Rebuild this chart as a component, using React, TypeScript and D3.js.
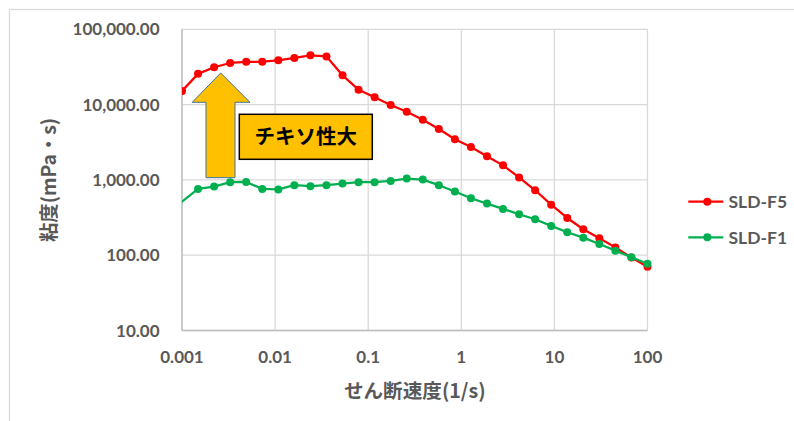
import React from "react";
import * as d3 from "d3";

// Shear rate grid (1/s) – 30 log-spaced steps from 0.001 to 100
const shearRatesF5 = [
  0.001, 0.001487, 0.002212, 0.00329, 0.004894, 0.007278,
  0.01083, 0.0161, 0.02395, 0.03562, 0.05298, 0.0788,
  0.1172, 0.1743, 0.2593, 0.3857, 0.5736, 0.8532,
  1.269, 1.887, 2.807, 4.175, 6.21, 9.237,
  13.74, 20.43, 30.39, 45.2, 67.23, 100,
];

// SLD-F5 viscosity (mPa·s)
const viscosityF5 = [
  15200, 25600, 31300, 35700, 37000, 37100,
  38700, 41600, 45200, 43600, 24500, 15800,
  12500, 9890, 8050, 6300, 4740, 3460,
  2730, 2060, 1560, 1080, 728, 469,
  312, 221, 168, 127, 93, 70,
];

// SLD-F1 starts one step below the axis minimum
const shearRatesF1 = [
  0.000672, 0.001487, 0.002212, 0.00329, 0.004894, 0.007278,
  0.01083, 0.0161, 0.02395, 0.03562, 0.05298, 0.0788,
  0.1172, 0.1743, 0.2593, 0.3857, 0.5736, 0.8532,
  1.269, 1.887, 2.807, 4.175, 6.21, 9.237,
  13.74, 20.43, 30.39, 45.2, 67.23, 100,
];

const viscosityF1 = [
  350, 759, 815, 932, 940, 759,
  748, 851, 825, 851, 893, 932,
  932, 970, 1040, 1010, 851, 700,
  571, 485, 412, 350, 300, 245,
  202, 171, 141, 115, 94, 77,
];

const xTicks = [0.001, 0.01, 0.1, 1, 10, 100];
const xTickLabels = ["0.001", "0.01", "0.1", "1", "10", "100"];
const yTicks = [10, 100, 1000, 10000, 100000];

const seriesNames = ["SLD-F5", "SLD-F1"];
const seriesColors = ["#FF0000", "#00B050"];

const xTitle = "せん断速度(1/s)";
const yTitle = "粘度(mPa・s)";
const noteText = "チキソ性大";

const W = 794;
const H = 421;
const plot = { left: 182, right: 647.5, top: 29.3, bottom: 330.5 };

const numFont = "Lato, 'Open Sans', sans-serif";
const jpFont = "'Noto Sans CJK JP', 'Noto Sans', sans-serif";
const labelColor = "#595959";

export default function App() {
  const x = d3.scaleLog().domain([0.001, 100]).range([plot.left, plot.right]);
  const y = d3.scaleLog().domain([10, 100000]).range([plot.bottom, plot.top]);
  const yFmt = d3.format(",.2f");

  const series = [
    { name: seriesNames[0], color: seriesColors[0], xs: shearRatesF5, ys: viscosityF5 },
    { name: seriesNames[1], color: seriesColors[1], xs: shearRatesF1, ys: viscosityF1 },
  ];

  const line = d3
    .line<[number, number]>()
    .x((d) => x(d[0]))
    .y((d) => y(d[1]));

  // upward arrow annotation
  const arrow = {
    tipX: 220.7, tipY: 73, headHalf: 28.5, headBaseY: 102.3,
    shaftL: 206, shaftR: 235, bottom: 177.7,
  };
  const arrowPts = [
    [arrow.tipX, arrow.tipY],
    [arrow.tipX + arrow.headHalf + 0.8, arrow.headBaseY],
    [arrow.shaftR, arrow.headBaseY],
    [arrow.shaftR, arrow.bottom],
    [arrow.shaftL, arrow.bottom],
    [arrow.shaftL, arrow.headBaseY],
    [arrow.tipX - arrow.headHalf, arrow.headBaseY],
  ]
    .map((p) => p.join(","))
    .join(" ");

  const box = { x: 239.3, y: 114.3, w: 133, h: 45 };

  return (
    <svg
      width={W}
      height={H}
      style={{ position: "absolute", left: 0, top: 0, background: "#fff" }}
    >
      <defs>
        <clipPath id="plotClip">
          <rect
            x={plot.left}
            y={plot.top - 6}
            width={plot.right - plot.left + 6}
            height={plot.bottom - plot.top + 12}
          />
        </clipPath>
      </defs>

      {/* chart area border */}
      <rect x={9.5} y={9.5} width={W + 20} height={H + 20} fill="#fff" stroke="#D9D9D9" strokeWidth={1.3} />

      {/* gridlines */}
      {yTicks.map((t) => (
        <line key={"gy" + t} x1={plot.left} x2={plot.right} y1={y(t)} y2={y(t)} stroke="#D9D9D9" strokeWidth={1.3} />
      ))}
      {xTicks.map((t) => (
        <line key={"gx" + t} x1={x(t)} x2={x(t)} y1={plot.top} y2={plot.bottom} stroke="#D9D9D9" strokeWidth={1.3} />
      ))}

      {/* axis lines */}
      <line x1={plot.left} x2={plot.left} y1={plot.top} y2={plot.bottom} stroke="#BFBFBF" strokeWidth={1.5} />
      <line x1={plot.left} x2={plot.right} y1={plot.bottom} y2={plot.bottom} stroke="#BFBFBF" strokeWidth={1.5} />

      {/* y tick labels */}
      {yTicks.map((t) => (
        <text
          key={"ly" + t}
          x={159.5}
          y={y(t)}
          dy="0.36em"
          textAnchor="end"
          fontFamily={numFont}
          fontWeight={700}
          fontSize={17}
          fill={labelColor}
        >
          {yFmt(t)}
        </text>
      ))}

      {/* x tick labels */}
      {xTicks.map((t, i) => (
        <text
          key={"lx" + t}
          x={x(t)}
          y={363}
          textAnchor="middle"
          fontFamily={numFont}
          fontWeight={700}
          fontSize={17}
          fill={labelColor}
        >
          {xTickLabels[i]}
        </text>
      ))}

      {/* axis titles */}
      <text
        x={(plot.left + plot.right) / 2}
        y={398}
        textAnchor="middle"
        fontFamily={jpFont}
        fontWeight={700}
        fontSize={19.6}
        fill={labelColor}
      >
        {xTitle}
      </text>
      <text
        transform={`translate(56,${(plot.top + plot.bottom) / 2}) rotate(-90)`}
        textAnchor="middle"
        fontFamily={jpFont}
        fontWeight={700}
        fontSize={19.3}
        fill={labelColor}
      >
        {yTitle}
      </text>

      {/* series */}
      <g clipPath="url(#plotClip)">
        {series.map((s) => {
          const pts = s.xs.map((v, i) => [v, s.ys[i]] as [number, number]);
          return (
            <g key={s.name}>
              <path d={line(pts) || ""} fill="none" stroke={s.color} strokeWidth={2.25} strokeLinejoin="round" />
              {pts
                .filter((p) => p[0] >= 0.001)
                .map((p, i) => (
                  <circle key={i} cx={x(p[0])} cy={y(p[1])} r={4} fill={s.color} />
                ))}
            </g>
          );
        })}
      </g>

      {/* annotation */}
      <polygon points={arrowPts} fill="#FFC000" stroke="#41719C" strokeWidth={1} />
      <rect x={box.x} y={box.y} width={box.w} height={box.h} fill="#FFC000" stroke="#000" strokeWidth={1.5} />
      <text
        x={box.x + box.w / 2}
        y={box.y + box.h / 2}
        dy="0.36em"
        textAnchor="middle"
        fontFamily={jpFont}
        fontWeight={700}
        fontSize={20.5}
        fill="#000"
      >
        {noteText}
      </text>

      {/* legend */}
      {series.map((s, i) => {
        const ly = 201.7 + i * 35.6;
        return (
          <g key={"lg" + s.name}>
            <line x1={688.3} x2={723.3} y1={ly} y2={ly} stroke={s.color} strokeWidth={2.25} />
            <circle cx={707.3} cy={ly} r={4} fill={s.color} />
            <text
              x={728.5}
              y={ly}
              dy="0.36em"
              fontFamily={numFont}
              fontWeight={700}
              fontSize={17.5}
              fill={labelColor}
            >
              {s.name}
            </text>
          </g>
        );
      })}
    </svg>
  );
}
